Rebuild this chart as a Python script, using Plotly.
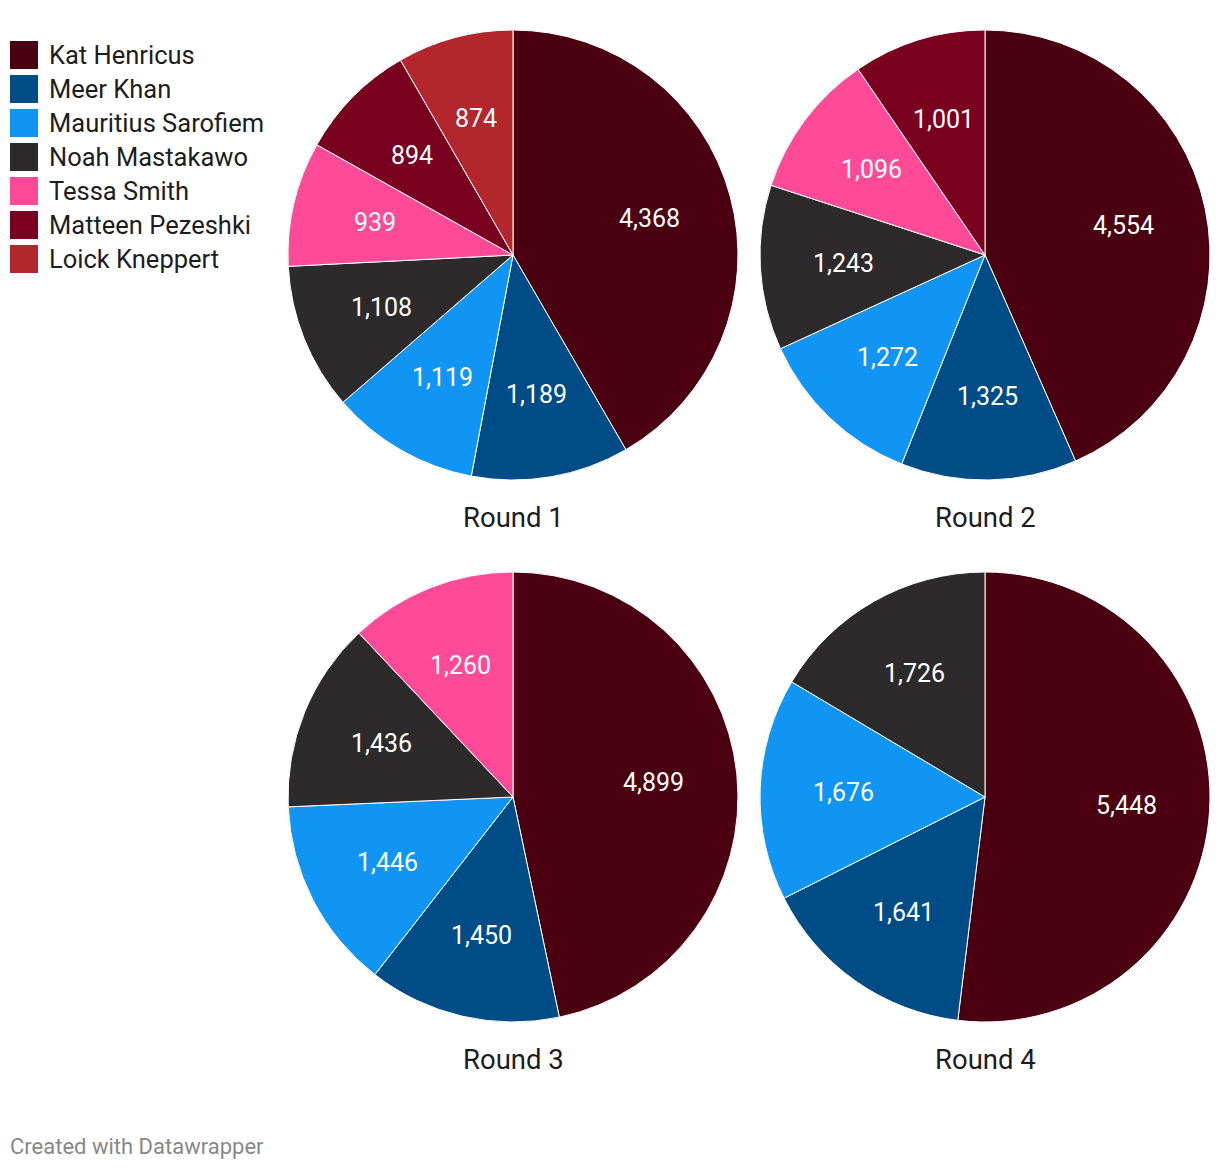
import math
import plotly.graph_objects as go

candidates = ["Kat Henricus", "Meer Khan", "Mauritius Sarofiem", "Noah Mastakawo",
              "Tessa Smith", "Matteen Pezeshki", "Loick Kneppert"]
colors = ["#4a0011", "#004c87", "#1095f5", "#2d2a2b", "#ff4a97", "#7a0020", "#b3262c"]

round_titles = ["Round 1", "Round 2", "Round 3", "Round 4"]
round1 = [4368, 1189, 1119, 1108, 939, 894, 874]
round2 = [4554, 1325, 1272, 1243, 1096, 1001]
round3 = [4899, 1450, 1446, 1436, 1260]
round4 = [5448, 1641, 1676, 1726]
rounds = [round1, round2, round3, round4]

# page has an 8px body margin; figure fills the rest of the 1220x1170 window
OFF = 8
W, H = 1220 - OFF, 1170 - OFF


def px(x):
    return (x - OFF) / W


def py(y):
    return 1 - (y - OFF) / H


# pie boxes in window pixels (left, top, size)
boxes = [(288, 30, 450), (760, 30, 450), (288, 572, 450), (760, 572, 450)]
title_y = [517, 517, 1059, 1059]
LABEL_R = 0.63

fig = go.Figure()
annotations = []
for i, vals in enumerate(rounds):
    x0, y0, s = boxes[i]
    n = len(vals)
    fig.add_trace(go.Pie(
        labels=candidates[:n],
        values=vals,
        sort=False,
        direction="clockwise",
        rotation=0,
        marker=dict(colors=colors[:n], line=dict(color="#ffffff", width=1)),
        textinfo="none",
        hoverinfo="label+value",
        showlegend=False,
        domain=dict(x=[px(x0), px(x0 + s)], y=[py(y0 + s), py(y0)]),
    ))
    # value labels placed along each slice's middle angle
    total = sum(vals)
    cx, cy, r = x0 + s / 2, y0 + s / 2, s / 2
    cum = 0
    for v in vals:
        mid = (cum + v / 2) / total * 2 * math.pi
        cum += v
        lx = cx + LABEL_R * r * math.sin(mid)
        ly = cy - LABEL_R * r * math.cos(mid)
        annotations.append(dict(
            text=f"{v:,}", x=px(lx), y=py(ly), xref="paper", yref="paper",
            xanchor="center", yanchor="middle", showarrow=False,
            font=dict(family="Roboto", size=25, color="#ffffff")))
    annotations.append(dict(
        text=round_titles[i], x=px(cx), y=py(title_y[i]), xref="paper", yref="paper",
        xanchor="center", yanchor="middle", showarrow=False,
        font=dict(family="Roboto", size=27.5, color="#1d1d1d")))

shapes = []
for j, name in enumerate(candidates):
    top = 41 + j * 34
    shapes.append(dict(type="rect", xref="paper", yref="paper",
                       x0=px(10), x1=px(38), y0=py(top + 28), y1=py(top),
                       fillcolor=colors[j], line=dict(width=0)))
    annotations.append(dict(
        text=name, x=px(47), y=py(top + 14), xref="paper", yref="paper",
        xanchor="left", yanchor="middle", showarrow=False,
        font=dict(family="Roboto", size=25.5, color="#1d1d1d")))

annotations.append(dict(
    text="Created with Datawrapper", x=px(8), y=py(1146), xref="paper", yref="paper",
    xanchor="left", yanchor="middle", showarrow=False,
    font=dict(family="Roboto", size=22, color="#888888")))

fig.update_layout(
    width=W, height=H,
    margin=dict(l=0, r=0, t=0, b=0),
    paper_bgcolor="#ffffff",
    plot_bgcolor="#ffffff",
    annotations=annotations,
    shapes=shapes,
    font=dict(family="Roboto"),
)

fig.write_html("out.html")
